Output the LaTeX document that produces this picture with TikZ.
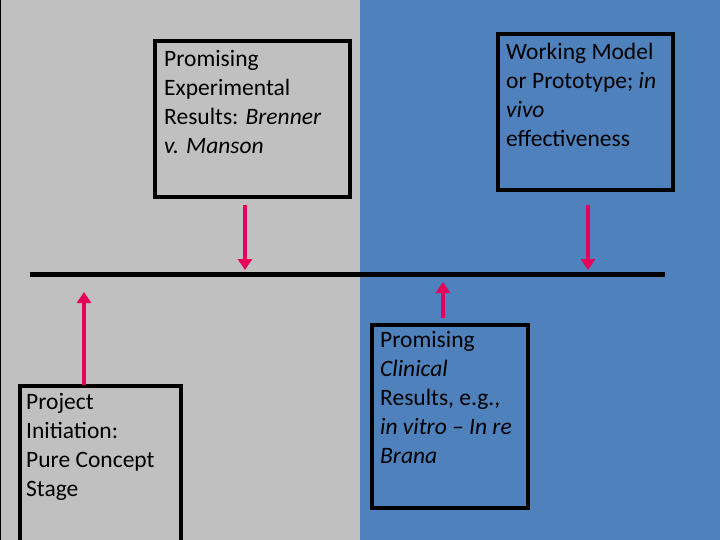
\documentclass[tikz,border=0pt]{standalone}
\usepackage{fontspec}
\setmainfont{Carlito}
\usetikzlibrary{arrows.meta}
\definecolor{grayL}{HTML}{C0C0C0}
\definecolor{blueR}{HTML}{4F81BD}
\definecolor{pinkA}{HTML}{E6005C}
\tikzset{
 lbl/.style={anchor=north west,align=left,font=\fontsize{23.5}{29}\selectfont,inner sep=0pt},
 arr/.style={draw=pinkA,line width=3.5pt,-{Triangle[length=11pt,width=14pt]}}
}
\begin{document}
\begin{tikzpicture}[x=1pt,y=-1pt]
\useasboundingbox (0,0) rectangle (720,540);
\fill[grayL] (0,0) rectangle (360,540);
\fill[blueR] (360,0) rectangle (720,540);
\draw[line width=1pt] (0.5,0) -- (0.5,540);
\draw[fill=grayL,line width=3.5pt] (155,41) rectangle (350,197);
\draw[fill=blueR,line width=3.5pt] (498,34) rectangle (673,190);
\draw[fill=grayL,line width=3.5pt] (20,386) rectangle (181,545);
\draw[fill=blueR,line width=3.5pt] (372,325) rectangle (528,508);
\node[lbl] (t1) at (164,50) {Promising\\Experimental\\Results: \textit{Brenner}\\\textit{v. Manson}};
\node[lbl] (t2) at (506,43) {Working Model\\or Prototype; \textit{in}\\\textit{vivo}\\effectiveness};
\node[lbl] (t3) at (26,393) {Project\\Initiation:\\Pure Concept\\Stage};
\node[lbl] (t4) at (380,331) {Promising\\\textit{Clinical}\\Results, e.g.,\\\textit{in vitro -- In re}\\\textit{Brana}};
\coordinate (l1) at (30,274); \coordinate (l2) at (665,274);
\draw[line width=5pt] (l1) -- (l2);
\coordinate (a1s) at (245,205); \coordinate (a1e) at (245,270);
\coordinate (a2s) at (588,205); \coordinate (a2e) at (588,270);
\coordinate (a3s) at (84,385); \coordinate (a3e) at (84,292);
\coordinate (a4s) at (443,318); \coordinate (a4e) at (443,282);
\draw[arr] (a1s) -- (a1e);
\draw[arr] (a2s) -- (a2e);
\draw[arr] (a3s) -- (a3e);
\draw[arr] (a4s) -- (a4e);
\end{tikzpicture}
\end{document}
